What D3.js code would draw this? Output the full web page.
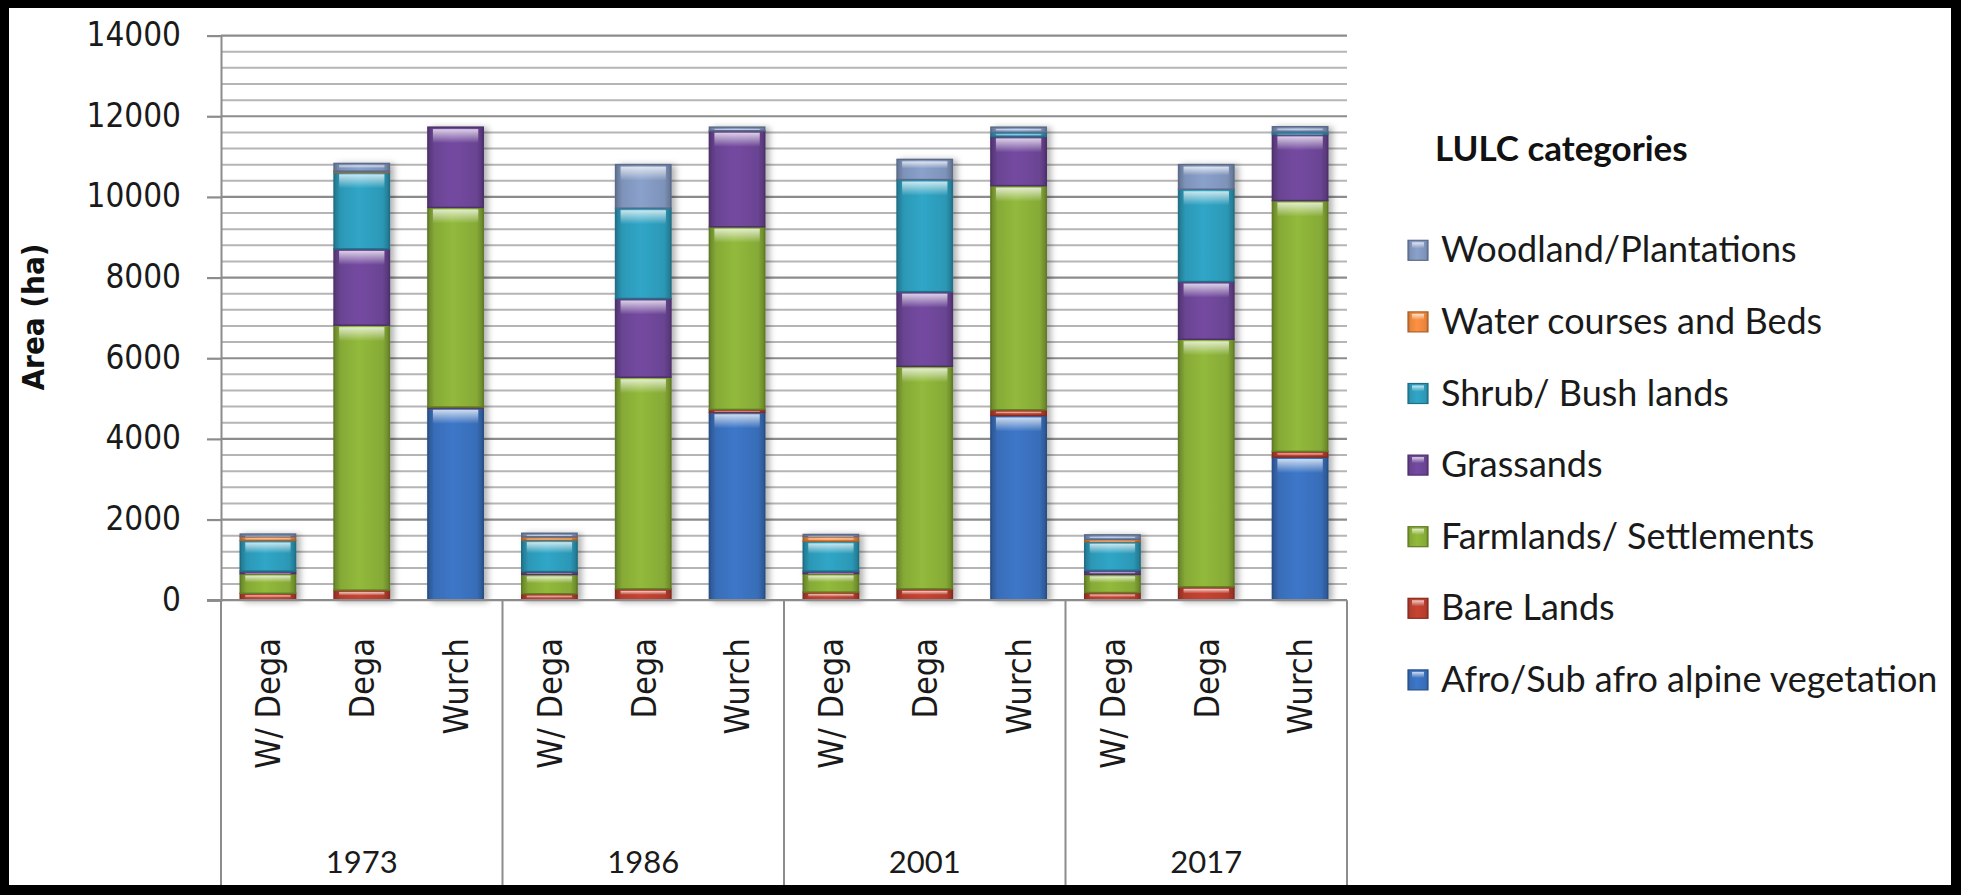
<!DOCTYPE html>
<html>
<head>
<meta charset="utf-8">
<script src="https://cdn.jsdelivr.net/npm/d3@7"></script>
<style>
  body { margin: 0; background: #000; }
  svg { display: block; }
  .tah { font-family: "DejaVu Sans Condensed", "DejaVu Sans", sans-serif; font-stretch: condensed; }
  .cal { font-family: Lato, "Open Sans", sans-serif; }
</style>
</head>
<body>
<svg id="chart"></svg>
<script>
// categories
const years = ['1973', '1986', '2001', '2017'];
const zones = ['W/ Dega', 'Dega', 'Wurch'];
const yTicks = [0, 2000, 4000, 6000, 8000, 10000, 12000, 14000];

// series, bottom of the stack first (values in ha, per year x zone)
const seriesNames = ['Afro/Sub afro alpine vegetation', 'Bare Lands', 'Farmlands/ Settlements',
                     'Grassands', 'Shrub/ Bush lands', 'Water courses and Beds', 'Woodland/Plantations'];
const afro  = [0, 0, 4770,   0, 0, 4660,    0, 0, 4580,    0, 0, 3550];
const bare  = [170, 250, 20, 160, 280, 70,  200, 280, 140, 190, 330, 140];
const farm  = [490, 6570, 4950, 480, 5250, 4530, 460, 5520, 5560, 450, 6140, 6220];
const grass = [60, 1890, 1990, 70, 1950, 2380, 60, 1850, 1220, 100, 1430, 1640];
const shrub = [760, 1900, 0, 780, 2240, 0,  740, 2780, 100, 710, 2290, 60];
const water = [100, 30, 0,   80, 0, 0,     120, 0, 0,     60, 0, 0];
const wood  = [60, 190, 0,   90, 1080, 90,  50, 500, 130,  110, 610, 130];
const seriesValues = [afro, bare, farm, grass, shrub, water, wood];

const colors = ['#386db8', '#b73d2d', '#86aa36', '#6a4493', '#2c98b6', '#e8853b', '#7e93ba'];

const W = 1961, H = 895;
const plot = { left: 221, right: 1347, top: 35.6, bottom: 600.2 };

// rows for d3.stack
const keys = [];
years.forEach(y => zones.forEach(z => keys.push(y + '|' + z)));
const rows = keys.map((k, i) => {
   const r = { key: k };
   seriesNames.forEach((s, j) => { r[s] = seriesValues[j][i]; });
   return r;
});

const svg = d3.select('#chart').attr('width', W).attr('height', H);
svg.append('rect').attr('width', W).attr('height', H).attr('fill', '#000');
svg.append('rect').attr('x', 9).attr('y', 8).attr('width', W - 19).attr('height', H - 18).attr('fill', '#fff');

const defs = svg.append('defs');
colors.forEach((c, i) => {
   const g = defs.append('linearGradient').attr('id', 'grad' + i).attr('x1', '0').attr('x2', '1').attr('y1', '0').attr('y2', '0');
   const dark = d3.color(c).darker(0.7), light = d3.color(c).brighter(0.25);
   g.append('stop').attr('offset', '0').attr('stop-color', dark);
   g.append('stop').attr('offset', '0.12').attr('stop-color', c);
   g.append('stop').attr('offset', '0.45').attr('stop-color', light);
   g.append('stop').attr('offset', '0.88').attr('stop-color', c);
   g.append('stop').attr('offset', '1').attr('stop-color', dark);
});
const hl = defs.append('linearGradient').attr('id', 'hl').attr('x1', '0').attr('x2', '0').attr('y1', '0').attr('y2', '1');
hl.append('stop').attr('offset', '0').attr('stop-color', '#fff').attr('stop-opacity', 0.75);
hl.append('stop').attr('offset', '1').attr('stop-color', '#fff').attr('stop-opacity', 0);
const sh = defs.append('filter').attr('id', 'shadow').attr('x', '-20%').attr('y', '-5%').attr('width', '150%').attr('height', '110%');
sh.append('feDropShadow').attr('dx', 4).attr('dy', 1).attr('stdDeviation', 3).attr('flood-color', '#000').attr('flood-opacity', 0.3);

const x = d3.scaleBand().domain(keys).range([plot.left, plot.right]).paddingInner(0.41).paddingOuter(0.205);
const y = d3.scaleLinear().domain([0, 14000]).range([plot.bottom, plot.top]);

// minor gridlines every 400
svg.append('g').selectAll('line')
   .data(d3.range(400, 14000, 400).filter(v => v % 2000 !== 0))
   .join('line')
   .attr('x1', plot.left).attr('x2', plot.right)
   .attr('y1', d => y(d)).attr('y2', d => y(d))
   .attr('stroke', '#b5b5b5').attr('stroke-width', 2);

// major gridlines
svg.append('g').selectAll('line')
   .data(yTicks.slice(1))
   .join('line')
   .attr('x1', plot.left).attr('x2', plot.right)
   .attr('y1', d => y(d)).attr('y2', d => y(d))
   .attr('stroke', '#8c8c8c').attr('stroke-width', 2.2);

// y axis
const yAxis = svg.append('g')
   .attr('transform', `translate(${plot.left},0)`)
   .call(d3.axisLeft(y).tickValues(yTicks).tickSize(14).tickPadding(26).tickFormat(d3.format('d')));
yAxis.select('.domain').attr('stroke', '#8c8c8c').attr('stroke-width', 2);
yAxis.selectAll('.tick line').attr('stroke', '#8c8c8c').attr('stroke-width', 2.2);
yAxis.selectAll('.tick text')
   .attr('class', 'tah')
   .attr('font-size', 33).attr('fill', '#1a1a1a').attr('dy', '0.3em');

svg.append('text')
   .attr('class', 'tah')
   .attr('transform', 'translate(44,317) rotate(-90)')
   .attr('text-anchor', 'middle')
   .attr('font-size', 31).attr('font-weight', 'bold').attr('fill', '#111')
   .text('Area (ha)');

// stacked bars
const stack = d3.stack().keys(seriesNames)(rows);
const bars = svg.append('g').attr('filter', 'url(#shadow)');
stack.forEach((layer, i) => {
   const segs = bars.append('g')
      .selectAll('g')
      .data(layer.filter(d => d[1] - d[0] > 0))
      .join('g');
   segs.append('rect')
      .attr('x', d => x(d.data.key))
      .attr('y', d => y(d[1]))
      .attr('width', x.bandwidth())
      .attr('height', d => y(d[0]) - y(d[1]))
      .attr('fill', `url(#grad${i})`)
      .attr('stroke', d3.color(colors[i]).darker(0.9))
      .attr('stroke-width', 1.5);
   segs.append('rect')
      .attr('x', d => x(d.data.key) + 5)
      .attr('y', d => y(d[1]) + 2)
      .attr('width', x.bandwidth() - 10)
      .attr('height', d => Math.max(0, Math.min(14, (y(d[0]) - y(d[1])) * 0.35)))
      .attr('fill', 'url(#hl)');
});

// category axis
svg.append('line')
   .attr('x1', plot.left - 14).attr('x2', plot.right)
   .attr('y1', plot.bottom).attr('y2', plot.bottom)
   .attr('stroke', '#8c8c8c').attr('stroke-width', 2.2);

const groupEdges = d3.range(years.length + 1).map(i => i === years.length ? plot.right : x(keys[i * zones.length]) - x.step() * x.paddingOuter());
svg.append('g').selectAll('line')
   .data(groupEdges)
   .join('line')
   .attr('x1', d => d).attr('x2', d => d)
   .attr('y1', plot.bottom).attr('y2', 885)
   .attr('stroke', '#8c8c8c').attr('stroke-width', 2);

svg.append('g').selectAll('text')
   .data(keys)
   .join('text')
   .attr('class', 'tah')
   .attr('transform', d => `translate(${x(d) + x.bandwidth() / 2},638) rotate(-90)`)
   .attr('dy', '0.36em')
   .attr('text-anchor', 'end')
   .attr('font-size', 34).attr('fill', '#1a1a1a')
   .text(d => d.split('|')[1]);

svg.append('g').selectAll('text')
   .data(years)
   .join('text')
   .attr('class', 'cal')
   .attr('x', (d, i) => (groupEdges[i] + groupEdges[i + 1]) / 2)
   .attr('y', 873)
   .attr('text-anchor', 'middle')
   .attr('font-size', 31).attr('fill', '#1a1a1a')
   .text(d => d);

// legend
const legend = svg.append('g');
legend.append('text')
   .attr('class', 'cal')
   .attr('x', 1435).attr('y', 161)
   .attr('font-size', 35).attr('font-weight', 'bold').attr('fill', '#111')
   .text('LULC categories');

const legendOrder = d3.range(seriesNames.length).reverse();
const item = legend.selectAll('g.item')
   .data(legendOrder)
   .join('g')
   .attr('class', 'item')
   .attr('transform', (d, i) => `translate(1408,${250.3 + i * 71.6})`);
item.append('rect')
   .attr('x', 0).attr('y', -10).attr('width', 20).attr('height', 20)
   .attr('fill', d => `url(#grad${d})`)
   .attr('stroke', d => d3.color(colors[d]).darker(0.9)).attr('stroke-width', 1.2);
item.append('rect')
   .attr('x', 4).attr('y', -8).attr('width', 12).attr('height', 6)
   .attr('fill', 'url(#hl)');
item.append('text')
   .attr('class', 'cal')
   .attr('x', 33).attr('y', 12)
   .attr('font-size', 36).attr('fill', '#1a1a1a')
   .text(d => seriesNames[d]);
</script>
</body>
</html>
